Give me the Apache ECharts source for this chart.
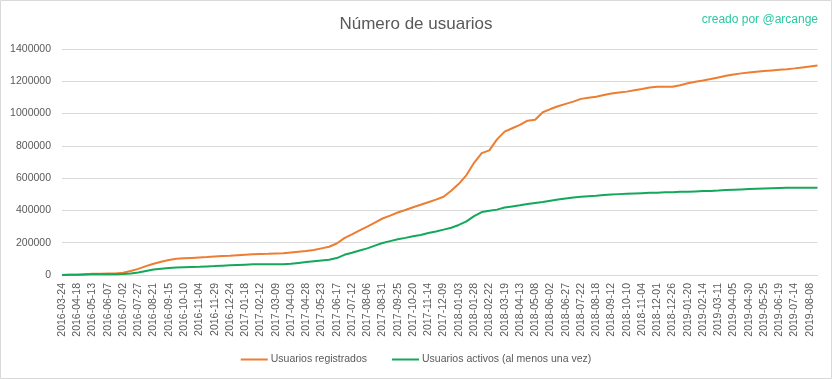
<!DOCTYPE html>
<html>
<head>
<meta charset="utf-8">
<script src="https://cdn.jsdelivr.net/npm/echarts@6/dist/echarts.min.js"></script>
<style>html,body{margin:0;padding:0;background:#fff}#c{width:832px;height:379px}</style>
</head>
<body>
<div id="c"></div>
<script>
// Tick labels (one every 25 data rows in the source)
const tickLabels = [
 "2016-03-24","2016-04-18","2016-05-13","2016-06-07","2016-07-02","2016-07-27","2016-08-21","2016-09-15","2016-10-10","2016-11-04",
 "2016-11-29","2016-12-24","2017-01-18","2017-02-12","2017-03-09","2017-04-03","2017-04-28","2017-05-23","2017-06-17","2017-07-12",
 "2017-08-06","2017-08-31","2017-09-25","2017-10-20","2017-11-14","2017-12-09","2018-01-03","2018-01-28","2018-02-22","2018-03-19",
 "2018-04-13","2018-05-08","2018-06-02","2018-06-27","2018-07-22","2018-08-18","2018-09-12","2018-10-10","2018-11-04","2018-12-01",
 "2018-12-26","2019-01-20","2019-02-14","2019-03-11","2019-04-05","2019-04-30","2019-05-25","2019-06-19","2019-07-14","2019-08-08"
];
// Values sampled at each tick and half-way between ticks
const registrados = [
 0,1000,2000,5000,7000,8000,9000,10000,14000,25000,
 38000,55000,70000,82000,93000,100000,103000,106000,109000,111000,
 115000,118000,120000,123000,126000,128000,130000,131000,133000,134000,
 139000,144000,149000,155000,165000,175000,195000,228000,252000,276000,
 300000,325000,350000,368000,387000,403000,420000,435000,451000,467000,
 485000,522000,565000,619000,695000,755000,772000,840000,888000,909000,
 930000,956000,962000,1008000,1028000,1045000,1060000,1074000,1091000,1098000,
 1104000,1115000,1124000,1130000,1136000,1144000,1152000,1162000,1166000,1166000,
 1166000,1176000,1188000,1197000,1205000,1214000,1224000,1234000,1242000,1249000,
 1255000,1259000,1263000,1267000,1271000,1275000,1280000,1286000,1292000,1298000
];
const activos = [
 0,1000,2000,3000,4000,4500,5000,5000,6000,10000,
 15000,25000,34000,39000,44000,46000,48000,50000,51000,53000,
 55000,58000,60000,62000,64000,66000,66000,66000,66000,67000,
 70000,75000,80000,85000,90000,95000,105000,125000,138000,152000,
 165000,182000,198000,210000,221000,230000,240000,248000,260000,270000,
 281000,293000,310000,332000,365000,390000,398000,405000,418000,425000,
 432000,440000,446000,452000,460000,468000,474000,480000,485000,488000,
 491000,495000,498000,501000,503000,505000,507000,509000,510000,512000,
 513000,515000,516000,518000,520000,521000,523000,526000,528000,530000,
 532000,534000,536000,538000,539000,540000,540000,541000,541000,541000
];
const yTicks = [0,200000,400000,600000,800000,1000000,1200000,1400000];

const categories = [];
tickLabels.forEach(function(t){ categories.push(t); categories.push(t + " "); });

const chart = echarts.init(document.getElementById('c'), null, {renderer:'canvas'});
const font = "'Liberation Sans', Arial, sans-serif";
chart.setOption({
  animation:false,
  backgroundColor:'#fff',
  textStyle:{fontFamily:font},
  title:[{
    text:'Número de usuarios', left:'center', top:11,
    textStyle:{fontFamily:font, fontSize:17, fontWeight:'normal', color:'#595959'}
  },{
    text:'creado por @arcange', right:9, top:9,
    textStyle:{fontFamily:font, fontSize:12, fontWeight:'normal', color:'#2cc7a2'}
  }],
  graphic:[{type:'rect', shape:{x:0.5,y:0.5,width:831,height:378}, style:{fill:'none', stroke:'#d9d9d9', lineWidth:1}, silent:true}],
  legend:{
    bottom:9, left:'center', itemWidth:27, itemHeight:2, itemGap:25,
    icon:'rect',
    textStyle:{fontFamily:font, fontSize:10.5, color:'#595959', padding:[0,0,0,-2]},
    data:['Usuarios registrados','Usuarios activos (al menos una vez)']
  },
  grid:{left:62, right:14.5, top:49, bottom:104, containLabel:false},
  xAxis:{
    type:'category', data:categories, boundaryGap:false,
    axisLine:{lineStyle:{color:'#d9d9d9', width:1}},
    axisTick:{show:false},
    axisLabel:{interval:1, rotate:90, margin:8, fontSize:10.5, color:'#595959', fontFamily:font,
      formatter:function(v){ return v.trim(); }}
  },
  yAxis:{
    type:'value', min:yTicks[0], max:yTicks[yTicks.length-1], interval:200000,
    axisLine:{show:false}, axisTick:{show:false},
    splitLine:{lineStyle:{color:'#d9d9d9', width:1}},
    axisLabel:{margin:11, fontSize:10.5, color:'#595959', fontFamily:font,
      formatter:function(v){ return String(v); }}
  },
  series:[{
    name:'Usuarios registrados', type:'line', data:registrados, showSymbol:false, symbol:'none',
    lineStyle:{color:'#ed7d31', width:2}, itemStyle:{color:'#ed7d31'}
  },{
    name:'Usuarios activos (al menos una vez)', type:'line', data:activos, showSymbol:false, symbol:'none',
    lineStyle:{color:'#13a85a', width:2}, itemStyle:{color:'#13a85a'}
  }]
});
</script>
</body>
</html>
